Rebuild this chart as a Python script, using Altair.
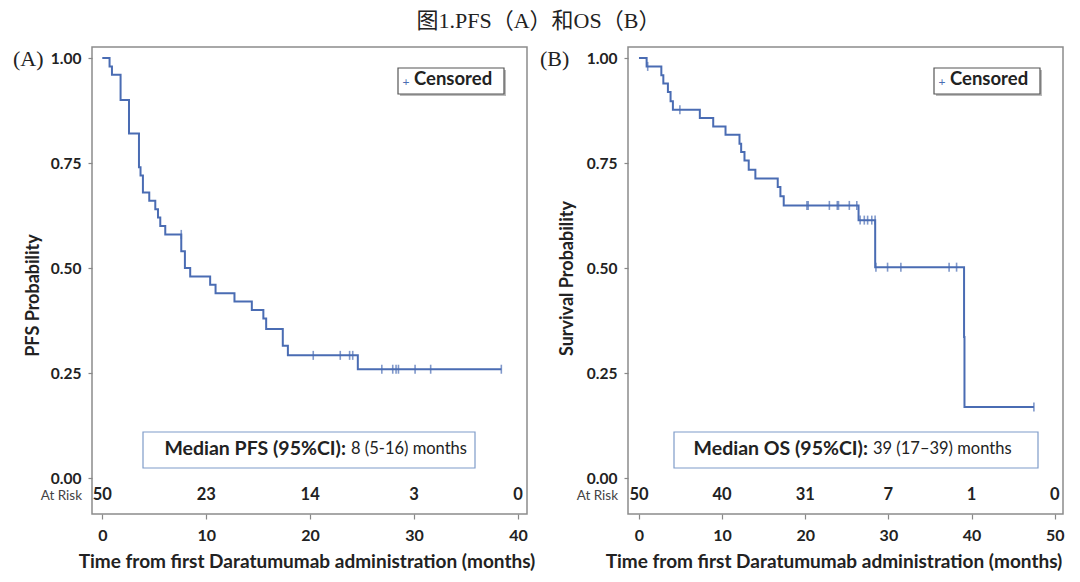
import altair as alt
import pandas as pd

# ---------------- data ----------------
pfs_time = [0, 0.7, 0.93, 1.76, 2.57, 3.53, 3.68, 3.91, 4.52, 5.1, 5.36, 5.58, 6.06, 7.6, 7.95, 8.46,
            10.38, 10.9, 12.72, 14.39, 15.5, 15.77, 17.37, 17.86, 24.59, 38.4]
pfs_surv = [1.0, 0.98, 0.96, 0.90, 0.82, 0.74, 0.72, 0.68, 0.66, 0.64, 0.62, 0.60, 0.58, 0.54, 0.50, 0.48,
            0.46, 0.44, 0.42, 0.40, 0.38, 0.355, 0.315, 0.292, 0.259, 0.259]
pfs_cens_time = [7.6, 20.3, 22.9, 23.8, 24.1, 26.9, 27.95, 28.27, 28.5, 30.1, 31.6, 38.4]
pfs_cens_surv = [0.58, 0.292, 0.292, 0.292, 0.292, 0.259, 0.259, 0.259, 0.259, 0.259, 0.259, 0.259]

os_time = [0, 0.92, 2.69, 2.93, 3.48, 3.8, 4.08, 7.32, 8.93, 10.41, 12.09, 12.29, 12.69, 13.2, 14.0,
           16.69, 17.01, 17.41, 26.41, 28.41, 39.1, 39.15, 47.5]
os_surv = [1.0, 0.98, 0.959, 0.939, 0.919, 0.897, 0.877, 0.857, 0.837, 0.817, 0.796, 0.776, 0.756, 0.734, 0.713,
           0.693, 0.671, 0.649, 0.614, 0.502, 0.336, 0.169, 0.169]
os_cens_time = [1.05, 4.92, 20.2, 20.35, 22.9, 23.85, 24.0, 25.3, 26.2, 26.6, 27.1, 27.5, 28.0, 28.4,
                28.5, 29.9, 31.5, 37.3, 38.2, 47.5]
os_cens_surv = [0.98, 0.877, 0.649, 0.649, 0.649, 0.649, 0.649, 0.649, 0.649, 0.614, 0.614, 0.614, 0.614, 0.614,
                0.502, 0.502, 0.502, 0.502, 0.502, 0.169]

risk_a_time = [0, 10, 20, 30, 40]
risk_a_n = [50, 23, 14, 3, 0]
risk_b_time = [0, 10, 20, 30, 40, 50]
risk_b_n = [50, 40, 31, 7, 1, 0]

y_ticks = [0, 0.25, 0.5, 0.75, 1.0]

FONT = "Lato"
LINE = "#4a6cb3"
TXT = "#222222"
W, H = 435, 467
Y_DOMAIN = [-0.0857, 1.0262]


def one():
    return pd.DataFrame({"k": [0]})


def panel(times, surv, ctimes, csurv, rtimes, rn, xdom, ytitle, ytitle_x, ytitle_y, xtitle_x,
          letter, letter_x, med_bold, med_rest, box_x, box_x2, bold_end):
    curve = pd.DataFrame({"t": times, "s": surv})
    cens = pd.DataFrame({"t": ctimes, "s": csurv})
    risk = pd.DataFrame({"t": rtimes, "n": rn})
    xs = alt.Scale(domain=xdom, nice=False, zero=False)
    ys = alt.Scale(domain=Y_DOMAIN, nice=False, zero=False)
    xaxis = alt.Axis(values=rtimes, title="Time from first Daratumumab administration (months)",
                     domain=False, grid=False, tickSize=5, tickColor="#888888", tickWidth=1.2,
                     labelPadding=8, labelFontSize=16, labelFont=FONT, labelFontWeight="bold",
                     labelColor=TXT, titleFont=FONT, titleFontSize=19, titleFontWeight="bold",
                     titleColor=TXT, titlePadding=9, titleX=xtitle_x, titleAlign="center")
    yaxis = alt.Axis(values=y_ticks, format=".2f", title=ytitle, domain=False, grid=False,
                     tickSize=4, tickColor="#888888", tickWidth=1.2, labelPadding=7,
                     labelFontSize=15.5, labelFont=FONT, labelFontWeight="bold", labelColor=TXT,
                     titleFont=FONT, titleFontSize=18, titleFontWeight="bold", titleColor=TXT,
                     titleX=ytitle_x, titleY=ytitle_y, titleAlign="center", titleBaseline="middle",
                     titleAngle=270)
    line = alt.Chart(curve).mark_line(interpolate="step-after", color=LINE, strokeWidth=2).encode(
        x=alt.X("t:Q", scale=xs, axis=xaxis), y=alt.Y("s:Q", scale=ys, axis=yaxis))
    ticks = alt.Chart(cens).mark_tick(orient="vertical", color=LINE, size=9, thickness=1.6).encode(
        x=alt.X("t:Q", scale=xs), y=alt.Y("s:Q", scale=ys))
    risk_txt = alt.Chart(risk).mark_text(font=FONT, fontSize=16.5, fontWeight="bold", color=TXT,
                                         baseline="middle").encode(
        x=alt.X("t:Q", scale=xs), y=alt.value(448), text="n:Q")
    at_risk = alt.Chart(one()).mark_text(text="At Risk", font=FONT, fontSize=13.5, color="#444444",
                                         align="right", baseline="middle").encode(
        x=alt.value(-10), y=alt.value(449))
    lab = alt.Chart(one()).mark_text(text=letter, font="Liberation Serif", fontSize=22, color=TXT,
                                     align="left", baseline="middle").encode(
        x=alt.value(letter_x), y=alt.value(12))
    # legend
    leg_shadow = alt.Chart(one()).mark_rect(fill="#bbbbbb").encode(
        x=alt.value(308), x2=alt.value(414), y=alt.value(23), y2=alt.value(49))
    leg_box = alt.Chart(one()).mark_rect(fill="white", stroke="#555555", strokeWidth=1.2).encode(
        x=alt.value(306), x2=alt.value(412), y=alt.value(21), y2=alt.value(47))
    leg_plus = alt.Chart(one()).mark_text(text="+", font=FONT, fontSize=12, color=LINE,
                                          align="center", baseline="middle").encode(
        x=alt.value(314), y=alt.value(35))
    leg_txt = alt.Chart(one()).mark_text(text="Censored", font=FONT, fontSize=18.5, fontWeight="bold",
                                         color=TXT, align="left", baseline="middle").encode(
        x=alt.value(322), y=alt.value(32))
    # median box
    med_box = alt.Chart(one()).mark_rect(fill="white", stroke="#7f9cc9", strokeWidth=1.2).encode(
        x=alt.value(box_x), x2=alt.value(box_x2), y=alt.value(385), y2=alt.value(421))
    med_b = alt.Chart(one()).mark_text(text=med_bold, font=FONT, fontSize=19.5, fontWeight="bold",
                                       color=TXT, align="right", baseline="middle").encode(
        x=alt.value(bold_end), y=alt.value(402))
    med_r = alt.Chart(one()).mark_text(text=med_rest, font=FONT, fontSize=16.5, color=TXT,
                                       align="left", baseline="middle").encode(
        x=alt.value(bold_end + 5), y=alt.value(402))
    return alt.layer(line, ticks, risk_txt, at_risk, lab, leg_shadow, leg_box, leg_plus, leg_txt,
                     med_box, med_b, med_r).properties(width=W, height=H)


pa = panel(pfs_time, pfs_surv, pfs_cens_time, pfs_cens_surv, risk_a_time, risk_a_n,
           [-0.99, 40.87], "PFS Probability", -59, 248, W / 2 - 3, "(A)", -79,
           "Median PFS (95%CI):", "8 (5-16) months", 51, 383, 254)
pb = panel(os_time, os_surv, os_cens_time, os_cens_surv, risk_b_time, risk_b_n,
           [-1.32, 51.0], "Survival Probability", -61, 231, W / 2 - 12, "(B)", -88,
           "Median OS (95%CI):", "39 (17–39) months", 46, 410, 240)

chart = alt.hconcat(pa, pb, spacing=101, bounds="flush").properties(
    title=alt.Title("图1.PFS（A）和OS（B）", font="Liberation Serif, Noto Sans CJK SC", fontSize=22,
                    fontWeight="normal", color=TXT, anchor="middle", offset=13),
    padding={"left": 4, "top": 2, "right": 0, "bottom": 0},
).configure_view(stroke="#8c8c8c", strokeWidth=1.5)

chart.save("out.html", embed_options={"renderer": "svg", "actions": False})
